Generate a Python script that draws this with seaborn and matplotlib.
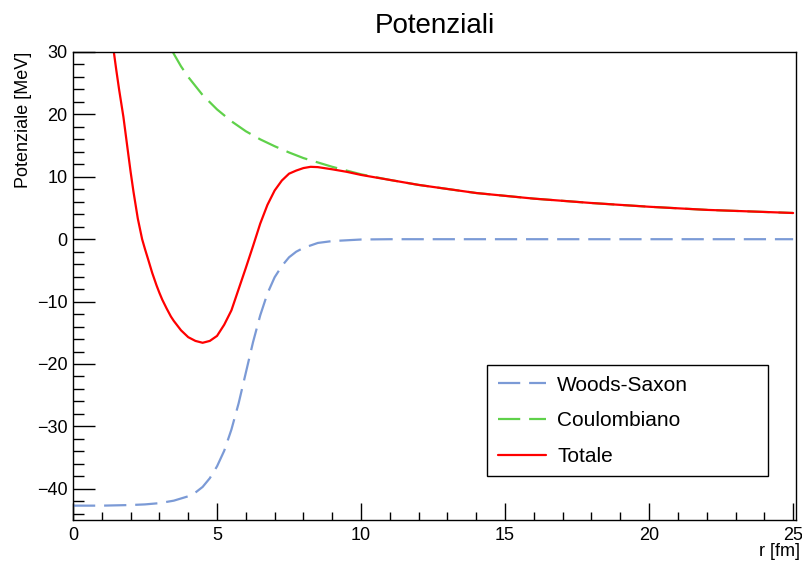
import matplotlib
matplotlib.use("Agg")
import matplotlib.pyplot as plt
from matplotlib.ticker import MultipleLocator
import seaborn as sns
import pandas as pd

# ---- data ----
r_ws = [0, 1, 2, 2.5, 3, 3.5, 4, 4.25, 4.5, 4.75, 5, 5.25, 5.5, 5.75, 6, 6.25,
        6.5, 6.75, 7, 7.25, 7.5, 7.75, 8, 8.5, 9, 10, 11, 12, 15, 20, 25]
v_ws = [-42.7, -42.7, -42.6, -42.5, -42.3, -41.9, -41.2, -40.6, -39.7, -38.3,
        -36.4, -33.9, -30.5, -26.3, -21.4, -16.5, -12.2, -8.7, -6.1, -4.3,
        -2.9, -2.0, -1.4, -0.6, -0.3, -0.05, 0, 0, 0, 0, 0]

r_coul = [3, 3.25, 3.5, 3.75, 4, 4.5, 5, 5.5, 6, 6.5, 7, 7.5, 8, 9, 10, 11, 12,
          14, 16, 18, 20, 22, 25]
v_coul = [34.7, 32.0, 29.7, 27.7, 26.0, 23.1, 20.8, 18.9, 17.3, 16.0, 14.9,
          13.9, 13.0, 11.6, 10.4, 9.5, 8.7, 7.4, 6.5, 5.8, 5.2, 4.7, 4.2]

r_tot = [1.3, 1.4, 1.5, 1.6, 1.75, 1.9, 2.0, 2.1, 2.25, 2.4, 2.5, 2.6, 2.75,
         2.9, 3.0, 3.1, 3.25, 3.4, 3.5, 3.75, 4.0, 4.25, 4.5, 4.75, 5.0, 5.25,
         5.5, 5.75, 6.0, 6.25, 6.5, 6.75, 7.0, 7.25, 7.5, 7.75, 8.0, 8.25,
         8.5, 9.0, 9.5, 10, 11, 12, 14, 16, 18, 20, 22, 25]
v_tot = [34.0, 30.6, 27.2, 24.0, 19.6, 14.3, 10.8, 7.6, 3.3, 0.0, -1.6, -3.1,
         -5.4, -7.4, -8.6, -9.7, -11.1, -12.4, -13.1, -14.6, -15.7, -16.3,
         -16.6, -16.3, -15.5, -13.7, -11.4, -8.0, -4.6, -1.1, 2.5, 5.5, 7.8,
         9.4, 10.5, 11.0, 11.4, 11.6, 11.55, 11.2, 10.8, 10.3, 9.5, 8.7, 7.4,
         6.5, 5.8, 5.2, 4.7, 4.2]

series_labels = ["Woods-Saxon", "Coulombiano", "Totale"]
title = "Potenziali"
xlabel = "r [fm]"
ylabel = "Potenziale [MeV]"

df_ws = pd.DataFrame({"r": r_ws, "V": v_ws})
df_coul = pd.DataFrame({"r": r_coul, "V": v_coul})
df_tot = pd.DataFrame({"r": r_tot, "V": v_tot})

sns.set_style("white")
plt.rcParams["font.family"] = ["Liberation Sans", "DejaVu Sans"]
plt.rcParams["text.color"] = "black"
plt.rcParams["axes.labelcolor"] = "black"

fig = plt.figure(figsize=(8.02, 5.61), dpi=100)
ax = fig.add_axes([73 / 802, 1 - 520 / 561, 723 / 802, 468 / 561])

c_ws = "#7b9ad6"
c_coul = "#5fd14a"
c_tot = "#ff0000"

sns.lineplot(data=df_ws, x="r", y="V", ax=ax, color=c_ws, lw=1.6,
             label=series_labels[0], sort=False)
sns.lineplot(data=df_coul, x="r", y="V", ax=ax, color=c_coul, lw=1.6,
             label=series_labels[1], sort=False)
sns.lineplot(data=df_tot, x="r", y="V", ax=ax, color=c_tot, lw=1.6,
             label=series_labels[2], sort=False)
lines = ax.get_lines()
lines[0].set_dashes((10, 4))
lines[1].set_dashes((10, 4))

ax.set_xlim(0, 25.1)
ax.set_ylim(-45, 30)

ax.xaxis.set_major_locator(MultipleLocator(5))
ax.xaxis.set_minor_locator(MultipleLocator(1))
ax.yaxis.set_major_locator(MultipleLocator(10))
ax.yaxis.set_minor_locator(MultipleLocator(2))
ax.tick_params(axis="both", which="both", direction="in", colors="black",
               labelsize=13, top=False, right=False, bottom=True, left=True)
ax.tick_params(axis="y", which="major", length=16, width=1, pad=4)
ax.tick_params(axis="y", which="minor", length=8, width=1)
ax.tick_params(axis="x", which="major", length=12, width=1, pad=5)
ax.tick_params(axis="x", which="minor", length=6, width=1)

for s in ax.spines.values():
    s.set_color("black")
    s.set_linewidth(1.0)

ax.set_title(title, fontsize=20, pad=14, color="black")
ax.set_xlabel(xlabel, fontsize=13, loc="right", color="black")
ax.set_ylabel(ylabel, fontsize=13, loc="top", color="black")
ax.xaxis.set_label_coords(1.005, -0.05)
ax.yaxis.set_label_coords(-0.057, 1.0)

leg = ax.legend(loc="upper left", bbox_to_anchor=(0.573, 0.09, 0.388, 0.241),
                mode="expand", fontsize=15, frameon=True, fancybox=False,
                edgecolor="black", framealpha=1, handlelength=2.3,
                handletextpad=0.55, labelspacing=0.8, borderpad=0.5,
                borderaxespad=0)
leg.get_frame().set_linewidth(1.0)
for t in leg.get_texts():
    t.set_color("black")

fig.savefig("out.png", dpi=100)
